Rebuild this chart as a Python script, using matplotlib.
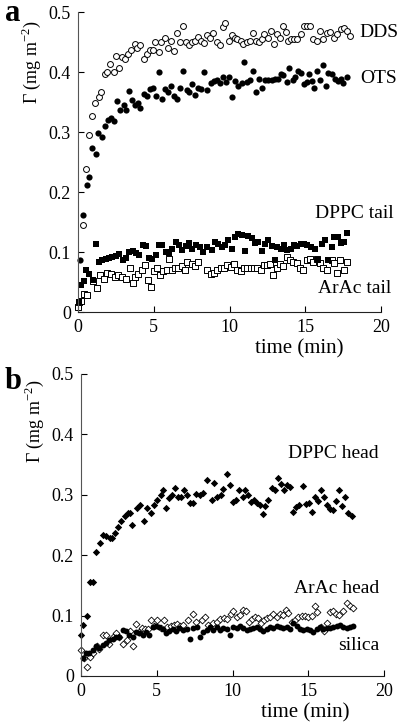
import matplotlib
matplotlib.use("Agg")
import matplotlib.pyplot as plt

plt.rcParams['font.family'] = ['Liberation Serif', 'DejaVu Serif']
plt.rcParams['mathtext.fontset'] = 'custom'
plt.rcParams['mathtext.rm'] = 'Liberation Serif'

# ---- panel a ----
dds_t = [0.0, 0.35, 0.53, 0.73, 0.95, 1.14, 1.36, 1.54, 1.76, 1.93, 2.13, 2.35, 2.53, 2.73, 2.9, 3.12,
         3.32, 3.52, 3.74, 3.92, 4.12, 4.33, 4.53, 4.73, 4.95, 5.11, 5.32, 5.5, 5.72, 5.94, 6.16, 6.34,
         6.53, 6.71, 6.95, 7.15, 7.33, 7.52, 7.7, 7.92, 8.14, 8.32, 8.54, 8.71, 8.93, 9.15, 9.37, 9.59,
         9.72, 9.97, 10.14, 10.36, 10.52, 10.74, 10.91, 11.13, 11.35, 11.53, 11.75, 11.97, 12.12, 12.3,
         12.52, 12.74, 12.94, 13.11, 13.33, 13.51, 13.73, 13.88, 14.06, 14.26, 14.48, 14.7, 14.92, 15.14,
         15.31, 15.53, 15.76, 15.97, 16.19, 16.41, 16.63, 16.9, 17.12, 17.34, 17.56, 17.73, 17.95]
dds_g = [0.01, 0.145, 0.238, 0.295, 0.327, 0.349, 0.358, 0.367, 0.398, 0.40, 0.414, 0.40, 0.427, 0.407,
         0.426, 0.422, 0.43, 0.438, 0.448, 0.44, 0.446, 0.423, 0.431, 0.438, 0.437, 0.45, 0.434, 0.45,
         0.457, 0.441, 0.452, 0.435, 0.465, 0.45, 0.477, 0.45, 0.446, 0.45, 0.452, 0.459, 0.452, 0.449,
         0.462, 0.458, 0.466, 0.45, 0.445, 0.476, 0.482, 0.452, 0.462, 0.458, 0.456, 0.453, 0.448, 0.45,
         0.453, 0.466, 0.453, 0.45, 0.455, 0.464, 0.457, 0.469, 0.447, 0.464, 0.458, 0.478, 0.467, 0.453,
         0.455, 0.456, 0.455, 0.464, 0.477, 0.478, 0.477, 0.456, 0.452, 0.469, 0.456, 0.466, 0.467, 0.458,
         0.464, 0.472, 0.474, 0.469, 0.461]

ots_t = [0.13, 0.35, 0.57, 0.73, 0.92, 1.19, 1.32, 1.56, 1.76, 1.98, 2.2, 2.35, 2.57, 2.8, 3.01, 3.19,
         3.34, 3.59, 3.78, 3.96, 4.11, 4.36, 4.57, 4.77, 4.97, 5.17, 5.32, 5.54, 5.74, 5.94, 6.16, 6.34,
         6.55, 6.75, 6.95, 7.17, 7.35, 7.55, 7.74, 7.94, 8.14, 8.34, 8.53, 8.76, 8.98, 9.15, 9.37, 9.55,
         9.77, 9.97, 10.14, 10.36, 10.58, 10.8, 10.98, 11.18, 11.35, 11.57, 11.75, 11.97, 12.17, 12.34,
         12.56, 12.79, 13.0, 13.22, 13.4, 13.55, 13.78, 13.95, 14.17, 14.32, 14.54, 14.7, 14.92, 15.09,
         15.27, 15.42, 15.58, 15.76, 15.97, 16.15, 16.37, 16.52, 16.75, 16.96, 17.18, 17.36, 17.51, 17.73]
ots_g = [0.087, 0.162, 0.212, 0.226, 0.273, 0.264, 0.298, 0.292, 0.31, 0.32, 0.323, 0.318, 0.352, 0.337,
         0.345, 0.337, 0.368, 0.353, 0.345, 0.348, 0.34, 0.364, 0.36, 0.373, 0.374, 0.36, 0.40, 0.356,
         0.372, 0.367, 0.378, 0.36, 0.356, 0.374, 0.402, 0.37, 0.367, 0.38, 0.362, 0.374, 0.372, 0.40,
         0.37, 0.383, 0.386, 0.387, 0.382, 0.392, 0.384, 0.392, 0.358, 0.386, 0.378, 0.382, 0.417, 0.384,
         0.387, 0.403, 0.367, 0.389, 0.374, 0.388, 0.387, 0.388, 0.389, 0.389, 0.398, 0.395, 0.384, 0.408,
         0.387, 0.392, 0.402, 0.399, 0.381, 0.384, 0.397, 0.386, 0.374, 0.403, 0.388, 0.413, 0.377, 0.399,
         0.397, 0.389, 0.386, 0.389, 0.382, 0.393]

dppc_tail_t = [0.07, 0.2, 0.4, 0.53, 0.75, 0.97, 1.19, 1.41, 1.6, 1.83, 2.05, 2.26, 2.49, 2.71, 2.95,
               3.17, 3.37, 3.61, 3.83, 4.05, 4.27, 4.47, 4.69, 4.9, 5.13, 5.35, 5.56, 5.79, 6.0, 6.22,
               6.45, 6.67, 6.88, 7.11, 7.33, 7.54, 7.77, 8.05, 8.27, 8.53, 8.82, 9.04, 9.26, 9.48, 9.7,
               9.92, 10.14, 10.36, 10.58, 10.8, 11.02, 11.24, 11.46, 11.68, 11.9, 12.12, 12.34, 12.56,
               12.78, 13.0, 13.16, 13.38, 13.6, 13.82, 14.04, 14.26, 14.48, 14.7, 14.92, 15.14, 15.36,
               15.64, 15.86, 16.08, 16.3, 16.52, 16.74, 16.92, 17.18, 17.34, 17.56, 17.78]
dppc_tail_g = [0.017, 0.045, 0.052, 0.07, 0.064, 0.054, 0.113, 0.084, 0.087, 0.089, 0.09, 0.092, 0.093,
               0.097, 0.087, 0.091, 0.10, 0.102, 0.098, 0.095, 0.112, 0.11, 0.091, 0.089, 0.095, 0.112,
               0.112, 0.10, 0.098, 0.106, 0.117, 0.112, 0.103, 0.11, 0.116, 0.106, 0.112, 0.109, 0.10,
               0.109, 0.103, 0.117, 0.113, 0.109, 0.112, 0.12, 0.106, 0.126, 0.13, 0.128, 0.102, 0.127,
               0.123, 0.116, 0.117, 0.102, 0.114, 0.121, 0.11, 0.087, 0.109, 0.106, 0.112, 0.103, 0.106,
               0.112, 0.11, 0.114, 0.114, 0.112, 0.109, 0.106, 0.087, 0.114, 0.121, 0.087, 0.109, 0.126,
               0.126, 0.116, 0.117, 0.132]

arac_tail_t = [0.0, 0.09, 0.2, 0.4, 0.62, 0.97, 1.23, 1.45, 1.72, 1.89, 2.16, 2.44, 2.66, 2.88, 3.17,
               3.43, 3.61, 3.76, 3.98, 4.2, 4.42, 4.64, 4.79, 5.02, 5.24, 5.41, 5.63, 5.85, 6.03, 6.18,
               6.4, 6.62, 6.84, 7.06, 7.21, 7.5, 7.72, 7.94, 8.49, 8.76, 8.98, 9.2, 9.42, 9.64, 9.86,
               10.08, 10.3, 10.52, 10.74, 10.96, 11.18, 11.4, 11.62, 11.84, 12.06, 12.28, 12.45, 12.67,
               12.89, 13.11, 13.33, 13.55, 13.82, 13.99, 14.21, 14.43, 14.65, 14.87, 15.09, 15.31, 15.53,
               15.75, 15.97, 16.19, 16.41, 16.74, 16.9, 17.12, 17.29, 17.56, 17.73]
arac_tail_g = [0.009, 0.017, 0.019, 0.031, 0.028, 0.052, 0.041, 0.062, 0.056, 0.066, 0.063, 0.059, 0.062,
               0.059, 0.056, 0.074, 0.048, 0.059, 0.064, 0.07, 0.078, 0.054, 0.042, 0.069, 0.074, 0.062,
               0.069, 0.071, 0.089, 0.07, 0.073, 0.074, 0.077, 0.07, 0.084, 0.081, 0.077, 0.084, 0.07,
               0.063, 0.066, 0.07, 0.074, 0.074, 0.078, 0.076, 0.081, 0.071, 0.069, 0.074, 0.073, 0.074,
               0.074, 0.074, 0.071, 0.078, 0.078, 0.081, 0.062, 0.074, 0.081, 0.077, 0.092, 0.087, 0.084,
               0.082, 0.074, 0.071, 0.087, 0.088, 0.084, 0.089, 0.082, 0.073, 0.07, 0.087, 0.082, 0.066,
               0.087, 0.07, 0.084]

# ---- panel b ----
dppc_head_t = [0.0, 0.15, 0.37, 0.57, 0.79, 1.01, 1.23, 1.45, 1.67, 1.89, 2.05, 2.22, 2.44, 2.66, 2.88,
               3.1, 3.21, 3.39, 3.72, 3.87, 4.16, 4.38, 4.6, 4.82, 5.04, 5.26, 5.41, 5.63, 5.79, 6.01,
               6.23, 6.4, 6.62, 6.8, 7.02, 7.22, 7.39, 7.61, 7.83, 8.07, 8.3, 8.63, 8.78, 8.96, 9.22,
               9.4, 9.62, 9.84, 10.01, 10.23, 10.45, 10.67, 10.83, 11.05, 11.2, 11.42, 11.6, 11.82, 11.99,
               12.15, 12.37, 12.59, 12.81, 13.03, 13.18, 13.4, 13.62, 13.8, 13.97, 14.19, 14.41, 14.63,
               14.85, 15.07, 15.23, 15.45, 15.67, 15.82, 16.04, 16.22, 16.44, 16.61, 16.83, 17.01, 17.21,
               17.43, 17.65, 17.87]
dppc_head_g = [0.068, 0.084, 0.099, 0.156, 0.156, 0.205, 0.22, 0.233, 0.231, 0.228, 0.228, 0.236, 0.246,
               0.257, 0.264, 0.269, 0.27, 0.25, 0.278, 0.283, 0.257, 0.278, 0.269, 0.283, 0.291, 0.30,
               0.308, 0.278, 0.294, 0.30, 0.311, 0.297, 0.297, 0.308, 0.30, 0.286, 0.287, 0.301, 0.30,
               0.302, 0.324, 0.292, 0.32, 0.297, 0.30, 0.309, 0.334, 0.316, 0.288, 0.292, 0.307, 0.297,
               0.308, 0.30, 0.288, 0.292, 0.286, 0.283, 0.268, 0.281, 0.292, 0.311, 0.308, 0.327, 0.318,
               0.307, 0.316, 0.313, 0.272, 0.28, 0.283, 0.314, 0.285, 0.287, 0.272, 0.296, 0.29, 0.308,
               0.297, 0.283, 0.277, 0.275, 0.29, 0.308, 0.281, 0.297, 0.269, 0.265]

arac_head_t = [0.0, 0.2, 0.42, 0.59, 0.81, 1.03, 1.21, 1.43, 1.65, 1.87, 2.09, 2.31, 2.53, 2.79, 3.01,
               3.23, 3.41, 3.63, 3.85, 4.0, 4.22, 4.44, 4.6, 4.82, 5.04, 5.26, 5.48, 5.7, 5.92, 6.14,
               6.31, 6.53, 6.75, 7.08, 7.37, 7.59, 7.97, 8.18, 8.4, 8.74, 8.96, 9.18, 9.44, 9.66, 9.88,
               10.06, 10.32, 10.5, 10.67, 10.89, 11.11, 11.27, 11.49, 11.71, 11.86, 12.08, 12.26, 12.48,
               12.7, 12.92, 13.14, 13.36, 13.53, 13.69, 13.91, 14.13, 14.35, 14.56, 14.78, 15.0, 15.23,
               15.45, 15.6, 15.82, 16.04, 16.22, 16.44, 16.61, 16.83, 17.05, 17.27, 17.54, 17.76, 17.93]
arac_head_g = [0.043, 0.029, 0.015, 0.031, 0.038, 0.05, 0.044, 0.068, 0.068, 0.053, 0.065, 0.071, 0.065,
               0.053, 0.059, 0.074, 0.05, 0.086, 0.072, 0.079, 0.077, 0.077, 0.093, 0.083, 0.093, 0.079,
               0.093, 0.081, 0.083, 0.084, 0.086, 0.083, 0.084, 0.093, 0.103, 0.09, 0.093, 0.097, 0.084,
               0.088, 0.09, 0.094, 0.096, 0.094, 0.103, 0.107, 0.097, 0.101, 0.109, 0.107, 0.09, 0.094,
               0.097, 0.096, 0.087, 0.093, 0.096, 0.097, 0.103, 0.098, 0.103, 0.101, 0.109, 0.104, 0.09,
               0.093, 0.098, 0.10, 0.10, 0.097, 0.10, 0.115, 0.105, 0.081, 0.075, 0.088, 0.105, 0.107,
               0.103, 0.101, 0.107, 0.12, 0.115, 0.112]

silica_t = [0.15, 0.33, 0.55, 0.77, 0.99, 1.21, 1.43, 1.65, 1.87, 2.09, 2.31, 2.53, 2.75, 2.97, 3.19,
            3.41, 3.63, 3.85, 4.07, 4.29, 4.51, 4.73, 4.95, 5.17, 5.39, 5.61, 5.83, 6.05, 6.27, 6.49,
            6.71, 6.97, 7.19, 7.41, 7.63, 7.86, 8.07, 8.3, 8.52, 8.74, 8.96, 9.18, 9.4, 9.62, 9.84,
            10.06, 10.28, 10.5, 10.72, 10.94, 11.16, 11.38, 11.6, 11.82, 12.04, 12.26, 12.48, 12.7,
            12.92, 13.14, 13.36, 13.58, 13.8, 14.02, 14.24, 14.46, 14.68, 14.9, 15.12, 15.34, 15.56,
            15.78, 16.0, 16.22, 16.44, 16.66, 16.88, 17.1, 17.32, 17.54, 17.76, 17.98]
silica_g = [0.029, 0.038, 0.038, 0.043, 0.049, 0.047, 0.051, 0.054, 0.059, 0.061, 0.064, 0.065, 0.076,
            0.074, 0.068, 0.065, 0.072, 0.071, 0.068, 0.072, 0.068, 0.081, 0.083, 0.081, 0.077, 0.071,
            0.075, 0.077, 0.074, 0.079, 0.076, 0.077, 0.061, 0.079, 0.081, 0.065, 0.073, 0.076, 0.081,
            0.076, 0.081, 0.076, 0.079, 0.077, 0.068, 0.081, 0.079, 0.082, 0.079, 0.076, 0.077, 0.079,
            0.081, 0.077, 0.075, 0.077, 0.081, 0.079, 0.082, 0.081, 0.079, 0.081, 0.077, 0.087, 0.083,
            0.077, 0.076, 0.077, 0.076, 0.073, 0.077, 0.081, 0.077, 0.079, 0.079, 0.081, 0.082, 0.084,
            0.081, 0.079, 0.081, 0.082]

ticks_x = [0, 5, 10, 15, 20]
ticks_y = [0, 0.1, 0.2, 0.3, 0.4, 0.5]
tick_labels_y = ['0', '0.1', '0.2', '0.3', '0.4', '0.5']

fig = plt.figure(figsize=(4.0, 7.26), dpi=100)
ax_a = fig.add_axes([0.195, 0.570, 0.7575, 0.413])
ax_b = fig.add_axes([0.2025, 0.069, 0.7575, 0.416])


def style(ax, xlab_pos, ylab_pos):
    ax.set_xlim(0, 20)
    ax.set_ylim(0, 0.5)
    ax.set_xticks(ticks_x)
    ax.set_xticklabels([str(t) for t in ticks_x])
    ax.set_yticks(ticks_y)
    ax.set_yticklabels(tick_labels_y)
    for s in ['top', 'right']:
        ax.spines[s].set_visible(False)
    ax.spines['left'].set_color('#555555')
    ax.spines['bottom'].set_color('#222222')
    ax.tick_params(direction='in', length=4, width=0.8, labelsize=13, pad=5)
    ax.set_xlabel('time (min)', fontsize=15)
    ax.set_ylabel('Γ (mg m$^{-2}$)', fontsize=13)
    ax.xaxis.set_label_coords(*xlab_pos)
    ax.yaxis.set_label_coords(*ylab_pos)


style(ax_a, (0.73, -0.09), (-0.115, 0.835))
style(ax_b, (0.74, -0.09), (-0.115, 0.845))

ax_a.scatter(dds_t, dds_g, s=18, facecolors='white', edgecolors='black', linewidths=0.7, clip_on=False)
ax_a.scatter(ots_t, ots_g, s=20, color='black', linewidths=0, clip_on=False)
ax_a.scatter(arac_tail_t, arac_tail_g, s=20, marker='s', facecolors='white', edgecolors='black', linewidths=0.7, clip_on=False)
ax_a.scatter(dppc_tail_t, dppc_tail_g, s=20, marker='s', color='black', linewidths=0, clip_on=False)

ax_a.text(18.6, 0.467, 'DDS', fontsize=14, va='center')
ax_a.text(18.6, 0.39, 'OTS', fontsize=14, va='center')
ax_a.text(15.64, 0.165, 'DPPC tail', fontsize=14, va='center')
ax_a.text(15.84, 0.04, 'ArAc tail', fontsize=14, va='center')

ax_b.scatter(arac_head_t, arac_head_g, s=12, marker='D', facecolors='white', edgecolors='black', linewidths=0.6, clip_on=False)
ax_b.scatter(silica_t, silica_g, s=18, color='black', linewidths=0, clip_on=False)
ax_b.scatter(dppc_head_t, dppc_head_g, s=14, marker='D', color='black', linewidths=0, clip_on=False)

ax_b.text(13.66, 0.369, 'DPPC head', fontsize=14, va='center')
ax_b.text(14.06, 0.144, 'ArAc head', fontsize=14, va='center')
ax_b.text(16.96, 0.051, 'silica', fontsize=14, va='center')

fig.text(0.012, 0.982, 'a', fontsize=22, fontweight='bold', va='center')
fig.text(0.012, 0.474, 'b', fontsize=22, fontweight='bold', va='center')

fig.savefig('out.png', dpi=100)
